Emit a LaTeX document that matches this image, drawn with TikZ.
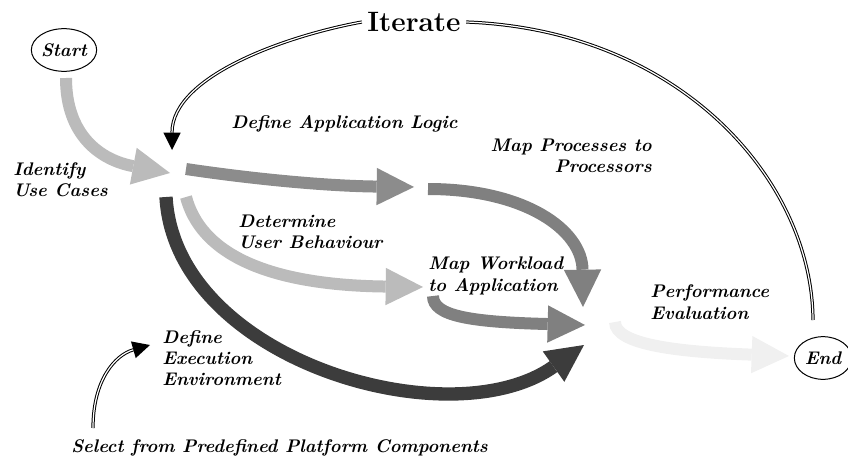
\documentclass[tikz,border=0pt]{standalone}
\usepackage{fontspec}
\usetikzlibrary{arrows.meta,shapes.geometric}
\definecolor{flowlight}{HTML}{BBBBBB}
\definecolor{flowmid}{HTML}{8C8C8C}
\definecolor{flowgray}{HTML}{808080}
\definecolor{flowdark}{HTML}{3C3C3C}
\definecolor{flowpale}{HTML}{F0F0F0}
\newcommand{\stagefont}{\fontsize{13.7}{16}\selectfont\bfseries\itshape\addfontfeature{FakeBold=1}}
\begin{document}
\begin{tikzpicture}[x=0.75pt,y=-0.75pt,
  lbl/.style={font=\stagefont, inner sep=0pt},
  term/.style={ellipse, draw, line width=0.75pt, minimum width=49pt, minimum height=32pt,
    inner sep=0pt, font=\stagefont},
  flow/.style={line width=9pt, -{Triangle[length=28pt,width=28pt,line width=0pt]}},
  loopline/.style={double, double distance=0.9pt, line width=0.75pt},
  looparrow/.style={loopline, -{Triangle[length=13pt,width=13pt,line width=0pt]}},
]
\useasboundingbox (0,0) rectangle (848,460);

% terminals
\node[term] (start) at (64,50) {Start};
\node[term, minimum width=43pt] (finish) at (823,358) {End};

% stage labels
\node[lbl, anchor=west, align=left] (lident) at (13,180) {Identify\\Use Cases};
\node[lbl, anchor=west] (lapp) at (231,124) {Define Application Logic};
\node[lbl, anchor=east, align=right] (lmap) at (652,156) {Map Processes to\\Processors};
\node[lbl, anchor=west, align=left] (luser) at (238,232) {Determine\\User Behaviour};
\node[lbl, anchor=west, align=left] (lwork) at (428,276) {Map Workload\\to Application};
\node[lbl, anchor=west, align=left] (lperf) at (650,302) {Performance\\Evaluation};
\node[lbl, anchor=west, align=left] (lenv) at (162,358) {Define\\Execution\\Environment};
\node[lbl, anchor=west] (lsel) at (71,448) {Select from Predefined Platform Components};

% anchor points of the flow arrows
\coordinate (startfoot) at (66,78);
\coordinate (hub) at (170,173);
\coordinate (appfrom) at (186,169);
\coordinate (appto) at (414,187);
\coordinate (mapfrom) at (428,189);
\coordinate (mapto) at (583,307);
\coordinate (userfrom) at (186,197);
\coordinate (userto) at (423,287);
\coordinate (workfrom) at (433,296);
\coordinate (workto) at (585,325);
\coordinate (envfrom) at (166,197);
\coordinate (envto) at (584,345);
\coordinate (perffrom) at (615,322);
\coordinate (perfto) at (789,356);

% flow arrows
\draw[flow, flowlight] (startfoot) .. controls (66,135) and (100,160) .. (hub);
\draw[flow, flowmid] (appfrom) .. controls (260,180) and (330,186) .. (appto);
\draw[flow, flowgray] (mapfrom) .. controls (525,189) and (582,230) .. (mapto);
\draw[flow, flowlight] (userfrom) .. controls (200,250) and (260,285) .. (userto);
\draw[flow, flowgray] (workfrom) .. controls (433,316) and (470,322) .. (workto);
\draw[flow, flowdark, line width=10pt] (envfrom) .. controls (175,360) and (450,440) .. (envto);
\draw[flow, flowpale] (perffrom) .. controls (615,345) and (680,352) .. (perfto);

% iteration loop
\node[inner xsep=4pt, inner ysep=0pt, font=\fontsize{21}{24}\selectfont\bfseries\addfontfeature{FakeBold=0.8}] (iter) at (414,22) {Iterate};
\coordinate (iterfoot) at (813,320);
\coordinate (itertip) at (172,150);
\draw[loopline] (iterfoot) .. controls (812,180) and (680,30) .. (iter.east);
\draw[looparrow] (iter.west) .. controls (290,35) and (172,75) .. (itertip);

% platform selection
\coordinate (selfoot) at (93,428);
\coordinate (seltip) at (150,345);
\draw[looparrow] (selfoot) .. controls (93,380) and (115,355) .. (seltip);
\end{tikzpicture}
\end{document}
